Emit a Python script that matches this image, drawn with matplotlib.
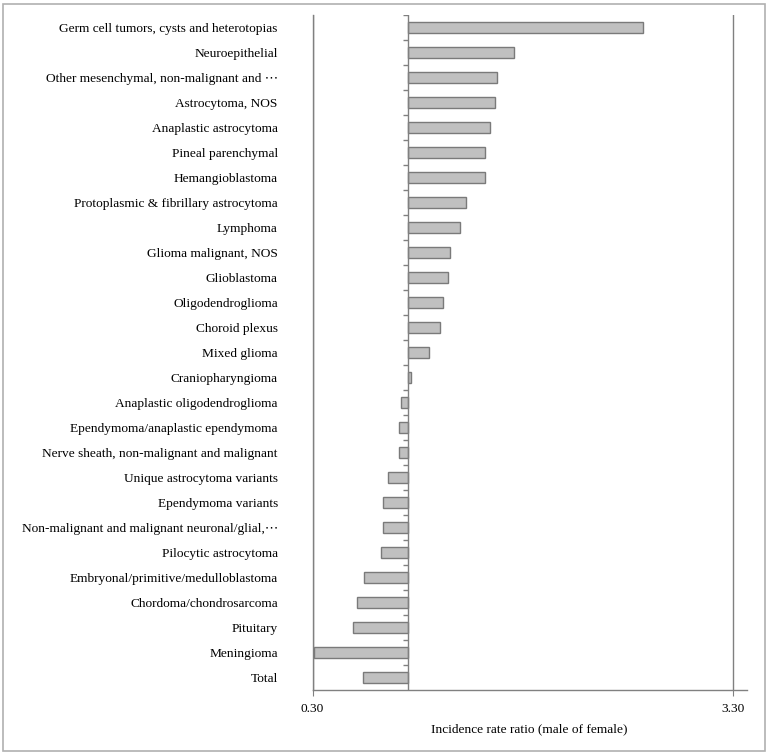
import matplotlib
matplotlib.use("Agg")
import matplotlib.pyplot as plt
from matplotlib.patches import Rectangle

# categories, top to bottom
categories = [
    "Germ cell tumors, cysts and heterotopias",
    "Neuroepithelial",
    "Other mesenchymal, non-malignant and \u22ef",
    "Astrocytoma, NOS",
    "Anaplastic astrocytoma",
    "Pineal parenchymal",
    "Hemangioblastoma",
    "Protoplasmic & fibrillary astrocytoma",
    "Lymphoma",
    "Glioma malignant, NOS",
    "Glioblastoma",
    "Oligodendroglioma",
    "Choroid plexus",
    "Mixed glioma",
    "Craniopharyngioma",
    "Anaplastic oligodendroglioma",
    "Ependymoma/anaplastic ependymoma",
    "Nerve sheath, non-malignant and malignant",
    "Unique astrocytoma variants",
    "Ependymoma variants",
    "Non-malignant and malignant neuronal/glial,\u22ef",
    "Pilocytic astrocytoma",
    "Embryonal/primitive/medulloblastoma",
    "Chordoma/chondrosarcoma",
    "Pituitary",
    "Meningioma",
    "Total",
]
irr = [2.66, 1.74, 1.62, 1.60, 1.57, 1.53, 1.53, 1.40, 1.35, 1.28,
       1.27, 1.23, 1.21, 1.13, 1.00, 0.93, 0.92, 0.92, 0.84, 0.80,
       0.80, 0.79, 0.67, 0.62, 0.59, 0.31, 0.66]
base = 0.985  # where the category axis crosses
xticks = [0.30, 3.30]
xticklabels = ["0.30", "3.30"]

plt.rcParams['font.family'] = ['Liberation Serif', 'DejaVu Serif', 'DejaVu Sans']
grey = "#808080"
fsize = 9.6

fig = plt.figure(figsize=(7.69, 7.55), dpi=100)
ax = fig.add_axes([312.5 / 769, 65 / 755, 434 / 769, 675.5 / 755])

n = len(categories)
ypos = list(range(n))
widths = [v - base for v in irr]
ax.barh(ypos, widths, left=base, height=0.44, color="#c0c0c0",
        edgecolor="#7a7a7a", linewidth=1, zorder=3)

ax.set_ylim(n - 0.5, -0.5)
ax.set_xlim(0.30, 3.40)
ax.set_yticks(ypos)
ax.set_yticklabels(categories, fontsize=fsize)
ax.tick_params(axis='y', length=0, pad=25)

ax.set_xticks(xticks)
ax.set_xticklabels(xticklabels, fontsize=fsize)
ax.tick_params(axis='x', length=4, color=grey, pad=5)
ax.grid(axis='x', color=grey, linewidth=1)
ax.set_axisbelow(True)

for s in ['top', 'right']:
    ax.spines[s].set_visible(False)
for s in ['left', 'bottom']:
    ax.spines[s].set_color(grey)
    ax.spines[s].set_linewidth(1)

# category axis at the crossing value, with boundary ticks
ax.axvline(base, color=grey, linewidth=1, zorder=4)
bounds = [i - 0.5 for i in range(n)]
ax.hlines(bounds, base - 0.04, base, color=grey, linewidth=1, zorder=4)

ax.set_xlabel("Incidence rate ratio (male of female)", fontsize=fsize, labelpad=6)

fig.add_artist(Rectangle((3 / 769, 4 / 755), 762 / 769, 747 / 755,
                         transform=fig.transFigure, fill=False,
                         edgecolor="#b0b0b0", linewidth=1.2))

fig.savefig("out.png", dpi=100)
